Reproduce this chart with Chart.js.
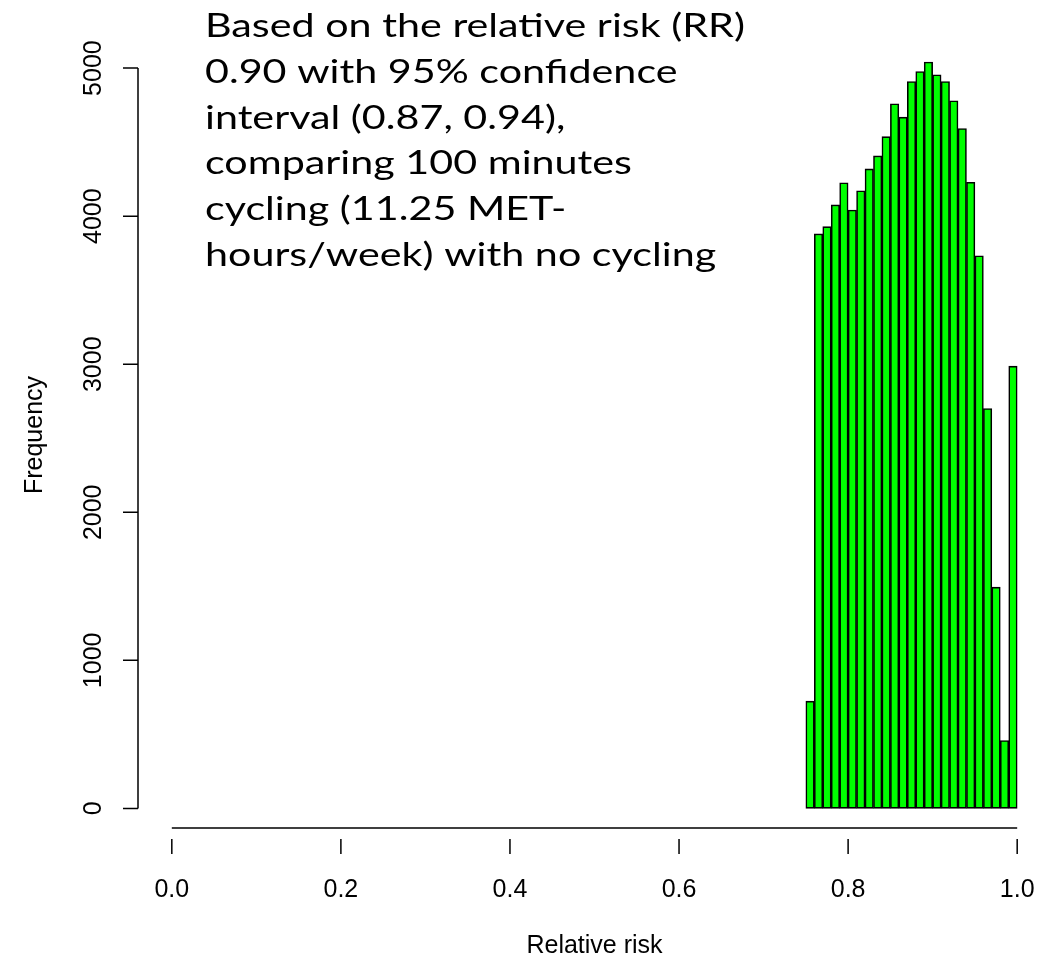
<!DOCTYPE html>
<html>
<head>
<meta charset="utf-8">
<title>Relative risk histogram</title>
<script src="https://cdn.jsdelivr.net/npm/chart.js@4.4.1/dist/chart.umd.min.js"></script>
<style>
  html, body { margin: 0; padding: 0; background: #fff; }
  #wrap { position: relative; width: 1060px; height: 968px; }
</style>
</head>
<body>
<div id="wrap"><canvas id="chart" width="1060" height="968"></canvas></div>
<script>
// histogram bins (left edges, width 0.01) and counts per bin
const binStarts = [0.75, 0.76, 0.77, 0.78, 0.79, 0.80, 0.81, 0.82, 0.83, 0.84,
                   0.85, 0.86, 0.87, 0.88, 0.89, 0.90, 0.91, 0.92, 0.93, 0.94,
                   0.95, 0.96, 0.97, 0.98, 0.99];
const binWidth = 0.01;
const counts = [724, 3880, 3929, 4076, 4226, 4042, 4172, 4319, 4407, 4537,
                4759, 4669, 4909, 4977, 5041, 4955, 4909, 4779, 4592, 4229,
                3733, 2701, 1494, 458, 2987];

const xTicks = [0, 0.2, 0.4, 0.6, 0.8, 1.0];
const xTickLabels = ["0.0", "0.2", "0.4", "0.6", "0.8", "1.0"];
const yTicks = [0, 1000, 2000, 3000, 4000, 5000];
const xTitle = "Relative risk";
const yTitle = "Frequency";

const noteLines = [
  "Based on the relative risk (RR)",
  "0.90 with 95% confidence",
  "interval (0.87, 0.94),",
  "comparing 100 minutes",
  "cycling (11.25 MET-",
  "hours/week) with no cycling"
];

const AXIS_FONT = '25px "Liberation Sans", Arial, sans-serif';
const NOTE_FONT = '32.5px Lato, "Open Sans", sans-serif';
const NOTE_STRETCH = 1.27;   // the text box is drawn wider than the font's natural width

// base-graphics style axes: detached ticks, rotated y labels
const rAxes = {
  id: "rAxes",
  afterDraw(chart) {
    const { ctx, chartArea, scales } = chart;
    const x = scales.x, y = scales.y;
    ctx.save();
    ctx.strokeStyle = "#000";
    ctx.fillStyle = "#000";
    ctx.lineWidth = 1.5;

    // y axis
    const ax = chartArea.left;
    ctx.beginPath();
    ctx.moveTo(ax, y.getPixelForValue(yTicks[0]));
    ctx.lineTo(ax, y.getPixelForValue(yTicks[yTicks.length - 1]));
    yTicks.forEach(v => {
      const py = y.getPixelForValue(v);
      ctx.moveTo(ax, py);
      ctx.lineTo(ax - 15, py);
    });
    ctx.stroke();

    ctx.font = AXIS_FONT;
    ctx.textAlign = "center";
    ctx.textBaseline = "middle";
    yTicks.forEach(v => {
      ctx.save();
      ctx.translate(ax - 44, y.getPixelForValue(v));
      ctx.rotate(-Math.PI / 2);
      ctx.fillText(String(v), 0, 0);
      ctx.restore();
    });

    // x axis line sits a little above its ticks
    const by = chartArea.bottom;
    ctx.beginPath();
    ctx.moveTo(x.getPixelForValue(xTicks[0]), by - 10);
    ctx.lineTo(x.getPixelForValue(xTicks[xTicks.length - 1]), by - 10);
    xTicks.forEach(v => {
      const px = x.getPixelForValue(v);
      ctx.moveTo(px, by + 1);
      ctx.lineTo(px, by + 16);
    });
    ctx.stroke();

    xTicks.forEach((v, i) => {
      ctx.fillText(xTickLabels[i], x.getPixelForValue(v), by + 52);
    });

    // axis titles
    ctx.fillText(xTitle, (chartArea.left + chartArea.right) / 2, by + 108);
    ctx.save();
    ctx.translate(35, (chartArea.top + chartArea.bottom) / 2);
    ctx.rotate(-Math.PI / 2);
    ctx.fillText(yTitle, 0, 0);
    ctx.restore();

    // annotation block
    ctx.font = NOTE_FONT;
    ctx.textAlign = "left";
    ctx.textBaseline = "alphabetic";
    noteLines.forEach((line, i) => {
      ctx.save();
      ctx.translate(205, 37 + i * 45.8);
      ctx.scale(NOTE_STRETCH, 1);
      ctx.fillText(line, 0, 0);
      ctx.restore();
    });
    ctx.restore();
  }
};

window.onload = () => {
  const ctx = document.getElementById("chart");
  new Chart(ctx, {
    type: "bar",
    data: {
      datasets: [{
        label: yTitle,
        data: binStarts.map((b, i) => ({ x: b + binWidth / 2, y: counts[i] })),
        backgroundColor: "#00ff00",
        borderColor: "#000",
        borderWidth: 1.6,
        borderSkipped: false,
        barPercentage: 1,
        categoryPercentage: 1
      }]
    },
    options: {
      responsive: false,
      animation: false,
      devicePixelRatio: 1,
      layout: { padding: { left: 138, right: 9, top: 32, bottom: 130 } },
      plugins: { legend: { display: false }, tooltip: { enabled: false } },
      scales: {
        x: { type: "linear", min: -0.04, max: 1.04, offset: false, display: false },
        y: { type: "linear", min: -200, max: 5244, display: false }
      }
    },
    plugins: [rAxes]
  });
};
</script>
</body>
</html>
